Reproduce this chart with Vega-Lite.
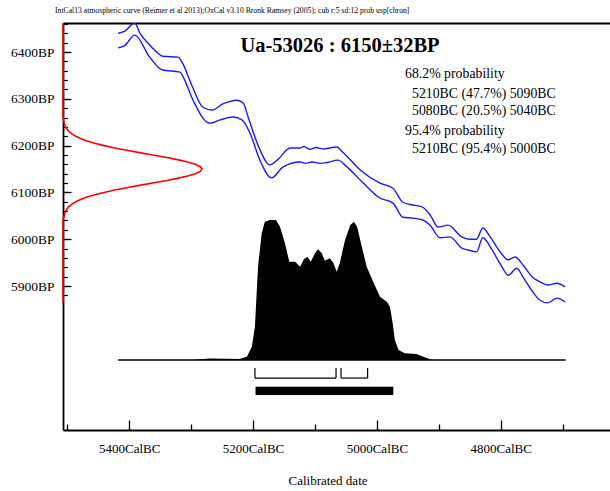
{
  "$schema": "https://vega.github.io/schema/vega-lite/v6.json",
  "width": 560,
  "height": 407,
  "autosize": {"type": "none"},
  "padding": {"left": 63, "top": 23, "right": 0, "bottom": 61},
  "background": "white",
  "config": {
    "view": {"stroke": null},
    "font": "Liberation Serif",
    "axis": {"grid": false, "labelColor": "black", "tickColor": "black", "domainColor": "black", "titleColor": "black", "labelFont": "Liberation Serif", "titleFont": "Liberation Serif"}
  },
  "title": {
    "text": "IntCal13 atmospheric curve (Reimer et al 2013);OxCal v3.10 Bronk Ramsey (2005); cub r:5 sd:12 prob usp[chron]",
    "anchor": "start", "frame": "group", "font": "Liberation Serif", "fontSize": 7.7, "fontWeight": "normal", "color": "black", "offset": 5, "dx": -8
  },
  "datasets": {
    "curve": [
      {"s": "hi", "yr": 5418, "bp": 6440}, {"s": "hi", "yr": 5408, "bp": 6444}, {"s": "hi", "yr": 5391, "bp": 6462}, {"s": "hi", "yr": 5383, "bp": 6441},
      {"s": "hi", "yr": 5367, "bp": 6415}, {"s": "hi", "yr": 5354, "bp": 6398}, {"s": "hi", "yr": 5346, "bp": 6391}, {"s": "hi", "yr": 5321, "bp": 6389},
      {"s": "hi", "yr": 5315, "bp": 6379}, {"s": "hi", "yr": 5299, "bp": 6329}, {"s": "hi", "yr": 5281, "bp": 6282}, {"s": "hi", "yr": 5266, "bp": 6276},
      {"s": "hi", "yr": 5249, "bp": 6289}, {"s": "hi", "yr": 5226, "bp": 6297}, {"s": "hi", "yr": 5216, "bp": 6291}, {"s": "hi", "yr": 5208, "bp": 6261},
      {"s": "hi", "yr": 5192, "bp": 6201}, {"s": "hi", "yr": 5173, "bp": 6159}, {"s": "hi", "yr": 5161, "bp": 6169}, {"s": "hi", "yr": 5140, "bp": 6195},
      {"s": "hi", "yr": 5124, "bp": 6195}, {"s": "hi", "yr": 5118, "bp": 6198}, {"s": "hi", "yr": 5108, "bp": 6192}, {"s": "hi", "yr": 5098, "bp": 6196},
      {"s": "hi", "yr": 5088, "bp": 6193}, {"s": "hi", "yr": 5065, "bp": 6197}, {"s": "hi", "yr": 5055, "bp": 6186}, {"s": "hi", "yr": 5027, "bp": 6148},
      {"s": "hi", "yr": 4995, "bp": 6120}, {"s": "hi", "yr": 4974, "bp": 6109}, {"s": "hi", "yr": 4958, "bp": 6079}, {"s": "hi", "yr": 4942, "bp": 6073},
      {"s": "hi", "yr": 4927, "bp": 6069}, {"s": "hi", "yr": 4914, "bp": 6052}, {"s": "hi", "yr": 4901, "bp": 6026}, {"s": "hi", "yr": 4885, "bp": 6030},
      {"s": "hi", "yr": 4863, "bp": 6005}, {"s": "hi", "yr": 4850, "bp": 6000}, {"s": "hi", "yr": 4839, "bp": 6000}, {"s": "hi", "yr": 4829, "bp": 6024},
      {"s": "hi", "yr": 4817, "bp": 6005}, {"s": "hi", "yr": 4801, "bp": 5973}, {"s": "hi", "yr": 4788, "bp": 5956}, {"s": "hi", "yr": 4777, "bp": 5962},
      {"s": "hi", "yr": 4764, "bp": 5945}, {"s": "hi", "yr": 4749, "bp": 5919}, {"s": "hi", "yr": 4737, "bp": 5909}, {"s": "hi", "yr": 4724, "bp": 5902},
      {"s": "hi", "yr": 4709, "bp": 5906}, {"s": "hi", "yr": 4696, "bp": 5898},
      {"s": "lo", "yr": 5418, "bp": 6409}, {"s": "lo", "yr": 5408, "bp": 6413}, {"s": "lo", "yr": 5391, "bp": 6436}, {"s": "lo", "yr": 5367, "bp": 6389},
      {"s": "lo", "yr": 5347, "bp": 6362}, {"s": "lo", "yr": 5318, "bp": 6357}, {"s": "lo", "yr": 5313, "bp": 6347}, {"s": "lo", "yr": 5297, "bp": 6297},
      {"s": "lo", "yr": 5270, "bp": 6248}, {"s": "lo", "yr": 5253, "bp": 6255}, {"s": "lo", "yr": 5232, "bp": 6261}, {"s": "lo", "yr": 5218, "bp": 6255},
      {"s": "lo", "yr": 5205, "bp": 6227}, {"s": "lo", "yr": 5189, "bp": 6169}, {"s": "lo", "yr": 5170, "bp": 6131}, {"s": "lo", "yr": 5152, "bp": 6154},
      {"s": "lo", "yr": 5124, "bp": 6165}, {"s": "lo", "yr": 5115, "bp": 6162}, {"s": "lo", "yr": 5105, "bp": 6165}, {"s": "lo", "yr": 5092, "bp": 6162},
      {"s": "lo", "yr": 5080, "bp": 6164}, {"s": "lo", "yr": 5063, "bp": 6169}, {"s": "lo", "yr": 5048, "bp": 6154}, {"s": "lo", "yr": 5022, "bp": 6120},
      {"s": "lo", "yr": 4995, "bp": 6088}, {"s": "lo", "yr": 4974, "bp": 6077}, {"s": "lo", "yr": 4958, "bp": 6047}, {"s": "lo", "yr": 4942, "bp": 6045},
      {"s": "lo", "yr": 4926, "bp": 6041}, {"s": "lo", "yr": 4914, "bp": 6030}, {"s": "lo", "yr": 4898, "bp": 6003}, {"s": "lo", "yr": 4882, "bp": 6005},
      {"s": "lo", "yr": 4863, "bp": 5981}, {"s": "lo", "yr": 4853, "bp": 5977}, {"s": "lo", "yr": 4839, "bp": 5973}, {"s": "lo", "yr": 4829, "bp": 6003},
      {"s": "lo", "yr": 4814, "bp": 5977}, {"s": "lo", "yr": 4798, "bp": 5941}, {"s": "lo", "yr": 4788, "bp": 5923}, {"s": "lo", "yr": 4774, "bp": 5938},
      {"s": "lo", "yr": 4764, "bp": 5919}, {"s": "lo", "yr": 4748, "bp": 5887}, {"s": "lo", "yr": 4737, "bp": 5870}, {"s": "lo", "yr": 4724, "bp": 5864},
      {"s": "lo", "yr": 4709, "bp": 5874}, {"s": "lo", "yr": 4696, "bp": 5866}
    ],
    "red": [
      {"bp": 5864, "p": 0}, {"bp": 6040, "p": 0}, {"bp": 6050, "p": 0.0076}, {"bp": 6055, "p": 0.0122}, {"bp": 6060, "p": 0.0192},
      {"bp": 6065, "p": 0.0294}, {"bp": 6070, "p": 0.0439}, {"bp": 6075, "p": 0.0641}, {"bp": 6080, "p": 0.0914}, {"bp": 6085, "p": 0.1271},
      {"bp": 6090, "p": 0.1724}, {"bp": 6095, "p": 0.2283}, {"bp": 6100, "p": 0.295}, {"bp": 6105, "p": 0.372}, {"bp": 6110, "p": 0.4578},
      {"bp": 6115, "p": 0.5498}, {"bp": 6120, "p": 0.6444}, {"bp": 6125, "p": 0.737}, {"bp": 6130, "p": 0.8226}, {"bp": 6135, "p": 0.896},
      {"bp": 6140, "p": 0.9524}, {"bp": 6145, "p": 0.9879}, {"bp": 6150, "p": 1}, {"bp": 6155, "p": 0.9879}, {"bp": 6160, "p": 0.9524},
      {"bp": 6165, "p": 0.896}, {"bp": 6170, "p": 0.8226}, {"bp": 6175, "p": 0.737}, {"bp": 6180, "p": 0.6444}, {"bp": 6185, "p": 0.5498},
      {"bp": 6190, "p": 0.4578}, {"bp": 6195, "p": 0.372}, {"bp": 6200, "p": 0.295}, {"bp": 6205, "p": 0.2283}, {"bp": 6210, "p": 0.1724},
      {"bp": 6215, "p": 0.1271}, {"bp": 6220, "p": 0.0914}, {"bp": 6225, "p": 0.0641}, {"bp": 6230, "p": 0.0439}, {"bp": 6235, "p": 0.0294},
      {"bp": 6240, "p": 0.0192}, {"bp": 6245, "p": 0.0122}, {"bp": 6250, "p": 0.0076}, {"bp": 6260, "p": 0}, {"bp": 6462, "p": 0}
    ],
    "dist": [
      {"yr": 5418, "p": 0}, {"yr": 5300, "p": 0}, {"yr": 5270, "p": 0.01}, {"yr": 5222, "p": 0.008}, {"yr": 5210, "p": 0.024},
      {"yr": 5202, "p": 0.095}, {"yr": 5197, "p": 0.238}, {"yr": 5192, "p": 0.666}, {"yr": 5186, "p": 0.905}, {"yr": 5181, "p": 0.988},
      {"yr": 5173, "p": 1.0}, {"yr": 5163, "p": 1.0}, {"yr": 5156.5, "p": 0.952}, {"yr": 5148.5, "p": 0.834}, {"yr": 5141.5, "p": 0.702},
      {"yr": 5132, "p": 0.702}, {"yr": 5124, "p": 0.666}, {"yr": 5118, "p": 0.719}, {"yr": 5112, "p": 0.738}, {"yr": 5107, "p": 0.702},
      {"yr": 5100, "p": 0.762}, {"yr": 5095, "p": 0.791}, {"yr": 5089, "p": 0.762}, {"yr": 5084, "p": 0.709}, {"yr": 5076, "p": 0.726},
      {"yr": 5070, "p": 0.691}, {"yr": 5065, "p": 0.631}, {"yr": 5060, "p": 0.691}, {"yr": 5051.5, "p": 0.857}, {"yr": 5043, "p": 0.964},
      {"yr": 5037, "p": 0.988}, {"yr": 5032, "p": 0.952}, {"yr": 5025, "p": 0.821}, {"yr": 5016.5, "p": 0.666}, {"yr": 5006, "p": 0.559},
      {"yr": 4995, "p": 0.452}, {"yr": 4984, "p": 0.416}, {"yr": 4979, "p": 0.381}, {"yr": 4974.5, "p": 0.262}, {"yr": 4971, "p": 0.143},
      {"yr": 4965, "p": 0.071}, {"yr": 4955, "p": 0.048}, {"yr": 4936, "p": 0.043}, {"yr": 4925, "p": 0.024}, {"yr": 4914, "p": 0.005},
      {"yr": 4909, "p": 0}, {"yr": 4696, "p": 0}
    ],
    "brackets": [{"from": 5197, "to": 5066}, {"from": 5058, "to": 5015}],
    "bar": [{"from": 5196, "to": 4973.5}],
    "one": [{}]
  },
  "resolve": {"scale": {"x": "independent", "y": "independent"}},
  "layer": [
    {
      "data": {"name": "curve"},
      "mark": {"type": "line", "color": "#1a1aff", "strokeWidth": 1.4, "clip": true, "interpolate": "monotone"},
      "encoding": {
        "x": {"field": "yr", "type": "quantitative",
          "scale": {"domain": [4602.5, 5507], "reverse": true, "nice": false, "zero": false},
          "axis": {"orient": "bottom", "values": [5400, 5200, 5000, 4800], "labelExpr": "datum.value + 'CalBC'",
            "tickSize": -10, "tickWidth": 1.3, "domainWidth": 1.8, "labelFontSize": 13, "labelPadding": 22,
            "labelFlush": false, "labelOverlap": false, "labelBaseline": "top",
            "title": "Calibrated date", "titleFontSize": 13, "titleFontWeight": "normal", "titleBaseline": "middle",
            "titleX": 264.5, "titleY": 50}},
        "y": {"field": "bp", "type": "quantitative",
          "scale": {"domain": [5592.3, 6462], "nice": false, "zero": false},
          "axis": {"orient": "left", "values": [5900, 6000, 6100, 6200, 6300, 6400], "labelExpr": "datum.value + 'BP'",
            "tickSize": -8, "tickWidth": 1.3, "domainWidth": 1.8, "labelFontSize": 13.5, "labelPadding": 17,
            "labelBaseline": "middle", "labelAlign": "right", "title": null}},
        "detail": {"field": "s"}
      }
    },
    {
      "data": {"name": "red"},
      "mark": {"type": "line", "color": "#ff0000", "strokeWidth": 1.6},
      "encoding": {
        "x": {"field": "p", "type": "quantitative", "scale": {"domain": [0, 4.0288], "nice": false, "zero": false},
          "axis": {"orient": "top", "domainWidth": 2, "ticks": false, "labels": false, "title": null}},
        "y": {"field": "bp", "type": "quantitative", "scale": {"domain": [5592.3, 6462], "nice": false, "zero": false},
          "axis": {"orient": "left", "values": [5880, 5900, 5920, 5940, 5960, 5980, 6000, 6020, 6040, 6060, 6080, 6100, 6120, 6140, 6160, 6180, 6200, 6220, 6240, 6260, 6280, 6300, 6320, 6340, 6360, 6380, 6400, 6420, 6440, 6460],
            "tickSize": -4.5, "tickWidth": 1.2, "labels": false, "domain": false, "title": null}},
        "order": {"field": "bp", "type": "quantitative"}
      }
    },
    {
      "data": {"name": "dist"},
      "mark": {"type": "area", "color": "black", "opacity": 1},
      "encoding": {
        "x": {"field": "yr", "type": "quantitative",
          "scale": {"domain": [4602.5, 5507], "reverse": true, "nice": false, "zero": false},
          "axis": {"orient": "bottom", "values": [5500, 5300, 5100, 4900, 4700], "tickSize": -6, "tickWidth": 1.3, "labels": false, "domain": false, "title": null}},
        "y": {"field": "p", "type": "quantitative", "scale": {"domain": [-0.5, 2.4071], "nice": false, "zero": false}, "axis": null},
        "y2": {"datum": 0}
      }
    },
    {
      "data": {"name": "one"},
      "mark": {"type": "rule", "color": "black", "strokeWidth": 1.5},
      "encoding": {
        "x": {"datum": 5418, "type": "quantitative", "scale": {"domain": [4602.5, 5507], "reverse": true, "nice": false, "zero": false}, "axis": null},
        "x2": {"datum": 4695},
        "y": {"datum": 0, "type": "quantitative", "scale": {"domain": [-0.5, 2.4071], "nice": false, "zero": false}, "axis": null}
      }
    },
    {
      "data": {"name": "brackets"},
      "mark": {"type": "rule", "color": "black", "strokeWidth": 1.2},
      "encoding": {
        "x": {"field": "from", "type": "quantitative", "scale": {"domain": [4602.5, 5507], "reverse": true, "nice": false, "zero": false}, "axis": null},
        "x2": {"field": "to"},
        "y": {"datum": -0.129, "type": "quantitative", "scale": {"domain": [-0.5, 2.4071], "nice": false, "zero": false}, "axis": null}
      }
    },
    {
      "data": {"name": "brackets"},
      "mark": {"type": "rule", "color": "black", "strokeWidth": 1.2},
      "encoding": {
        "x": {"field": "from", "type": "quantitative", "scale": {"domain": [4602.5, 5507], "reverse": true, "nice": false, "zero": false}, "axis": null},
        "y": {"datum": -0.129, "type": "quantitative", "scale": {"domain": [-0.5, 2.4071], "nice": false, "zero": false}, "axis": null},
        "y2": {"datum": -0.057}
      }
    },
    {
      "data": {"name": "brackets"},
      "mark": {"type": "rule", "color": "black", "strokeWidth": 1.2},
      "encoding": {
        "x": {"field": "to", "type": "quantitative", "scale": {"domain": [4602.5, 5507], "reverse": true, "nice": false, "zero": false}, "axis": null},
        "y": {"datum": -0.129, "type": "quantitative", "scale": {"domain": [-0.5, 2.4071], "nice": false, "zero": false}, "axis": null},
        "y2": {"datum": -0.057}
      }
    },
    {
      "data": {"name": "bar"},
      "mark": {"type": "rect", "color": "black"},
      "encoding": {
        "x": {"field": "from", "type": "quantitative", "scale": {"domain": [4602.5, 5507], "reverse": true, "nice": false, "zero": false}, "axis": null},
        "x2": {"field": "to"},
        "y": {"datum": -0.191, "type": "quantitative", "scale": {"domain": [-0.5, 2.4071], "nice": false, "zero": false}, "axis": null},
        "y2": {"datum": -0.25}
      }
    },
    {
      "data": {"name": "one"},
      "mark": {"type": "text", "fontSize": 20.5, "fontWeight": "bold", "align": "center", "baseline": "alphabetic", "color": "black", "font": "Liberation Serif"},
      "encoding": {
        "x": {"datum": 5059.6, "type": "quantitative", "scale": {"domain": [4602.5, 5507], "reverse": true, "nice": false, "zero": false}, "axis": null},
        "y": {"datum": 6401, "type": "quantitative", "scale": {"domain": [5592.3, 6462], "nice": false, "zero": false}, "axis": null},
        "text": {"value": "Ua-53026 : 6150±32BP"}
      }
    },
    {
      "data": {"name": "one"},
      "mark": {"type": "text", "fontSize": 13.8, "align": "left", "baseline": "alphabetic", "color": "black", "font": "Liberation Serif"},
      "encoding": {
        "x": {"datum": 4954.6, "type": "quantitative", "scale": {"domain": [4602.5, 5507], "reverse": true, "nice": false, "zero": false}, "axis": null},
        "y": {"datum": 6344.4, "type": "quantitative", "scale": {"domain": [5592.3, 6462], "nice": false, "zero": false}, "axis": null},
        "text": {"value": "68.2% probability"}
      }
    },
    {
      "data": {"name": "one"},
      "mark": {"type": "text", "fontSize": 13.8, "align": "left", "baseline": "alphabetic", "color": "black", "font": "Liberation Serif"},
      "encoding": {
        "x": {"datum": 4943.3, "type": "quantitative", "scale": {"domain": [4602.5, 5507], "reverse": true, "nice": false, "zero": false}, "axis": null},
        "y": {"datum": 6301.7, "type": "quantitative", "scale": {"domain": [5592.3, 6462], "nice": false, "zero": false}, "axis": null},
        "text": {"value": "5210BC (47.7%) 5090BC"}
      }
    },
    {
      "data": {"name": "one"},
      "mark": {"type": "text", "fontSize": 13.8, "align": "left", "baseline": "alphabetic", "color": "black", "font": "Liberation Serif"},
      "encoding": {
        "x": {"datum": 4943.3, "type": "quantitative", "scale": {"domain": [4602.5, 5507], "reverse": true, "nice": false, "zero": false}, "axis": null},
        "y": {"datum": 6265.4, "type": "quantitative", "scale": {"domain": [5592.3, 6462], "nice": false, "zero": false}, "axis": null},
        "text": {"value": "5080BC (20.5%) 5040BC"}
      }
    },
    {
      "data": {"name": "one"},
      "mark": {"type": "text", "fontSize": 13.8, "align": "left", "baseline": "alphabetic", "color": "black", "font": "Liberation Serif"},
      "encoding": {
        "x": {"datum": 4954.6, "type": "quantitative", "scale": {"domain": [4602.5, 5507], "reverse": true, "nice": false, "zero": false}, "axis": null},
        "y": {"datum": 6223.7, "type": "quantitative", "scale": {"domain": [5592.3, 6462], "nice": false, "zero": false}, "axis": null},
        "text": {"value": "95.4% probability"}
      }
    },
    {
      "data": {"name": "one"},
      "mark": {"type": "text", "fontSize": 13.8, "align": "left", "baseline": "alphabetic", "color": "black", "font": "Liberation Serif"},
      "encoding": {
        "x": {"datum": 4943.3, "type": "quantitative", "scale": {"domain": [4602.5, 5507], "reverse": true, "nice": false, "zero": false}, "axis": null},
        "y": {"datum": 6184.2, "type": "quantitative", "scale": {"domain": [5592.3, 6462], "nice": false, "zero": false}, "axis": null},
        "text": {"value": "5210BC (95.4%) 5000BC"}
      }
    }
  ]
}
